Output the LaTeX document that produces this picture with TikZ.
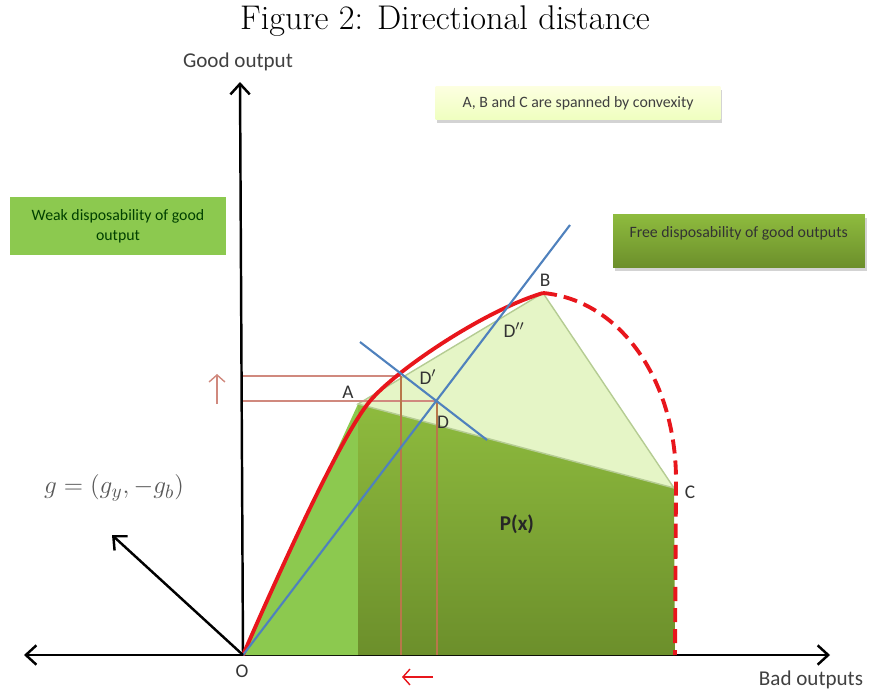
\documentclass[tikz,border=0pt]{standalone}
\usepackage{fontspec}
\newfontfamily\carlito{Carlito}
\usetikzlibrary{arrows.meta,shadows}
\definecolor{frontierred}{HTML}{E8161C}
\definecolor{rayblue}{HTML}{4F81BD}
\definecolor{guidered}{HTML}{D0897E}
\definecolor{guidebrown}{HTML}{B8774A}
\definecolor{hullgreen}{HTML}{E5F5C6}
\definecolor{hulledge}{HTML}{B5CC93}
\definecolor{weakgreen}{HTML}{8CC94F}
\definecolor{freetop}{HTML}{8EBB3E}
\definecolor{freebottom}{HTML}{6C8F2B}
\begin{document}
\begin{tikzpicture}[x=0.02cm, y=-0.02cm,
        axis_line/.style={line width=1.4pt, -{Straight Barb[length=6pt,width=11pt]}},
        guide_line/.style={line width=0.7pt},
        point_label/.style={font=\carlito\fontsize{11}{13}\selectfont, text=black!80},
        axis_label/.style={font=\carlito\fontsize{12}{14}\selectfont, text=black!75},
        note_box/.style={font=\carlito\fontsize{9}{11.5}\selectfont, align=center, inner sep=2pt},
        shift_arrow/.style={line width=0.8pt, -{Straight Barb[length=4pt,width=9pt]}}
    ]
        \useasboundingbox (0,0) rectangle (878,693);

        % Title
        \node[font=\fontsize{19.5}{22}\selectfont] (title) at (445,21) {Figure 2: Directional distance};

        % Key points
        \coordinate (O) at (243,655);
        \coordinate (A) at (358,404);
        \coordinate (B) at (543,293);
        \coordinate (C) at (674,488);
        \coordinate (D) at (437,401);
        \coordinate (Dp) at (401,376);
        \coordinate (Dpp) at (509,306);
        \coordinate (A_foot) at (358,655);
        \coordinate (C_foot) at (675,655);
        \coordinate (y_top) at (240,82);
        \coordinate (x_left) at (24,655);
        \coordinate (x_right) at (830,655);
        \coordinate (g_tip) at (112,535);
        \coordinate (ray_end) at (570,225);
        \coordinate (tan_start) at (360,342);
        \coordinate (tan_end) at (487,440);
        \coordinate (bend) at (370,401);

        % Axes
        \draw[axis_line] (O) -- (y_top);
        \draw[axis_line] (O) -- (x_left);
        \draw[axis_line] (O) -- (x_right);

        % Technology set
        \fill[weakgreen] (O) -- (A) -- (A_foot) -- cycle;
        \shade[top color=freetop, bottom color=freebottom] (A) -- (C) -- (C_foot) -- (A_foot) -- cycle;
        \filldraw[fill=hullgreen, draw=hulledge, line width=0.8pt] (A) -- (B) -- (C) -- cycle;

        % Guide lines
        \draw[guide_line, guidered] (Dp -| O) -- (Dp);
        \draw[guide_line, guidered] (D -| O) -- (D);
        \draw[guide_line, guidebrown] (Dp) -- (Dp |- O);
        \draw[guide_line, guidebrown] (D) -- (D |- O);

        % Frontier
        \draw[frontierred, line width=2.2pt]
            (O) .. controls (278,575) and (340,437) .. (bend)
                .. controls (395,371) and (483,311) .. (B);
        \draw[frontierred, line width=2.2pt, dash pattern=on 8pt off 4pt]
            (B) .. controls (620,300) and (676,380) .. (676,480) -- (C_foot);

        % Direction ray and tangent
        \draw[rayblue, line width=1.2pt] (O) -- (ray_end);
        \draw[rayblue, line width=1.2pt] (tan_start) -- (tan_end);

        % Direction vector
        \draw[axis_line] (O) -- (g_tip);
        \node[font=\fontsize{15}{18}\selectfont, text=black!65] (g_label) at (114,488) {$g=(g_y,-g_b)$};

        % Shift arrows
        \coordinate (up_from) at (217,404);
        \coordinate (up_to) at (217,374);
        \coordinate (left_from) at (433,677);
        \coordinate (left_to) at (402,677);
        \draw[shift_arrow, guidered] (up_from) -- (up_to);
        \draw[shift_arrow, frontierred] (left_from) -- (left_to);

        % Labels
        \node[axis_label] (good_lbl) at (238,62) {Good output};
        \node[axis_label] (bad_lbl) at (811,680) {Bad outputs};
        \node[point_label] (O_lbl) at (242,671) {O};
        \node[point_label] (A_lbl) at (348,392) {A};
        \node[point_label] (B_lbl) at (545,280) {B};
        \node[point_label] (C_lbl) at (690,492) {C};
        \node[point_label] (D_lbl) at (443,422) {D};
        \node[point_label] (Dp_lbl) at (428,377) {D$'$};
        \node[point_label] (Dpp_lbl) at (514,330) {D$''$};
        \node[font=\carlito\bfseries\fontsize{12}{14}\selectfont, text=black!85] (P_lbl) at (517,524) {P(x)};

        % Notes
        \node[note_box, top color=green!8!yellow!12, bottom color=green!25!yellow!25, text=black!75,
              minimum width=5.7cm, minimum height=0.66cm,
              drop shadow={opacity=0.35, shadow xshift=1pt, shadow yshift=-2pt}]
            (convex_note) at (578,103) {A, B and C are spanned by convexity};
        \node[note_box, fill=weakgreen, text=green!25!black, minimum width=4.34cm, minimum height=1.16cm]
            (weak_note) at (118,226) {Weak disposability of good\\output};
        \node[note_box, top color=freetop, bottom color=freebottom, minimum width=5.04cm, minimum height=1.06cm,
              drop shadow={opacity=0.35, shadow xshift=1pt, shadow yshift=-2pt},
              label={[note_box, anchor=north west, text=black!80, xshift=0.26cm, yshift=-0.16cm]north west:Free disposability of good outputs}]
            (free_note) at (739,241) {};
    \end{tikzpicture}
\end{document}
